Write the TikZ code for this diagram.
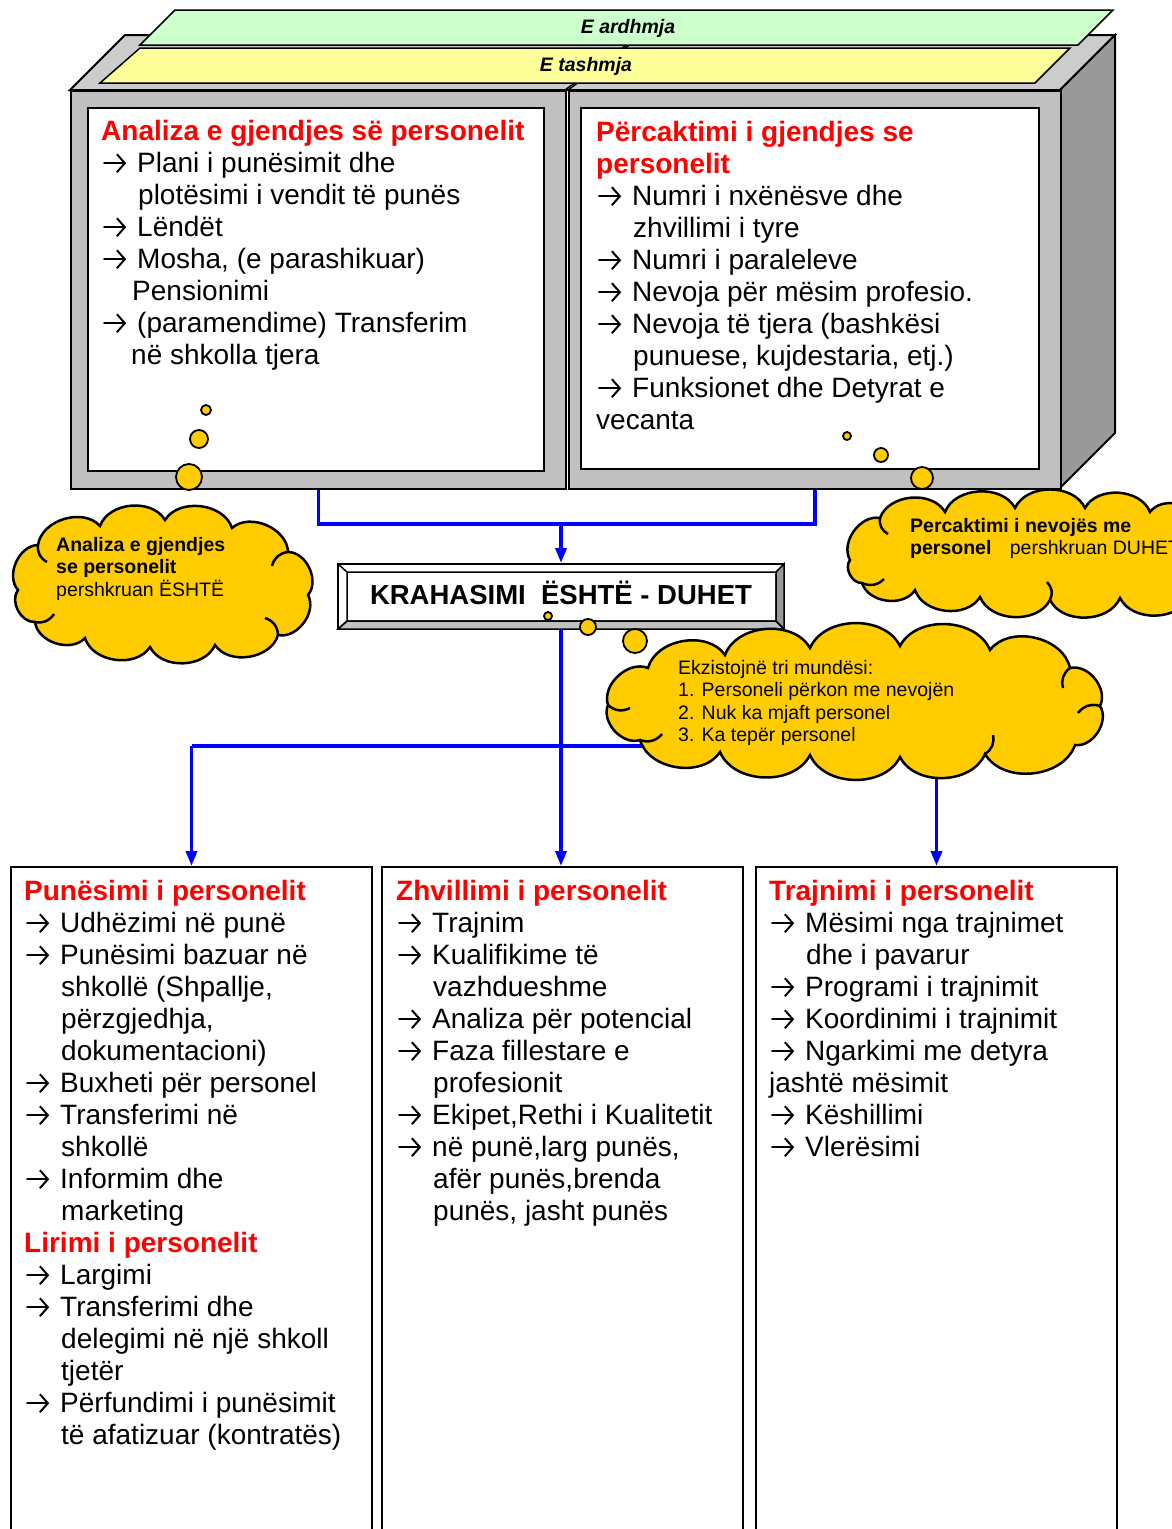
\documentclass[tikz,border=0pt]{standalone}
\usepackage{fontspec}
\setmainfont{Liberation Sans}
\usetikzlibrary{arrows.meta}

\definecolor{facegray}{HTML}{C0C0C0}
\definecolor{topgray}{HTML}{CCCCCC}
\definecolor{sidegray}{HTML}{999999}
\definecolor{futuregreen}{HTML}{CCFFCC}
\definecolor{pastyellow}{HTML}{FFFF99}
\definecolor{bubble}{HTML}{FFCC00}
\definecolor{wireblue}{HTML}{0000FF}

\newcommand{\goto}{\hspace*{2pt}\tikz[baseline=0pt]\draw[line width=2pt, line cap=round,
    -{Straight Barb[length=8pt,width=18pt,line width=2pt]}] (0pt,9pt) -- (22pt,9pt);\hspace*{10pt}}
\newcommand{\cont}{\hspace*{37pt}}
\newcommand{\redhead}[1]{\textcolor{red}{\bfseries #1}}
\newcommand{\bodyfont}{\fontsize{28}{32}\selectfont}
\newcommand{\cloudfont}{\fontsize{19.5}{22.5}\selectfont}
\newcommand{\tallstrut}{\rule{0pt}{26pt}}
\newcommand{\shortstrut}{\rule{0pt}{18pt}}

\begin{document}
\begin{tikzpicture}[x=1pt, y=-1pt,
    face/.style={draw, line width=2pt, fill=facegray, anchor=north west, inner sep=0pt},
    window/.style={draw, line width=2pt, fill=white, anchor=north west, inner sep=0pt},
    listbox/.style={draw, line width=2pt, fill=white, anchor=north west, inner sep=0pt,
        minimum width=361, minimum height=690},
    listtext/.style={anchor=north west, align=left, inner sep=0pt, font=\bodyfont},
    cloudtext/.style={anchor=north west, align=left, inner sep=0pt, font=\cloudfont},
    puff/.style={draw, line width=2.5pt, fill=bubble, bend left=65},
    crease/.style={line width=2.5pt, bend right=35},
    dot/.style={circle, draw, line width=1.8pt, fill=bubble, inner sep=0pt},
    wire/.style={draw=wireblue, line width=3.5pt},
    wirearrow/.style={wire, -{Triangle[width=11pt,length=15pt]}},
    striplabel/.style={font=\bfseries\itshape\fontsize{19.5}{22}\selectfont, inner sep=0pt}]

    \useasboundingbox (0,0) rectangle (1171,1529);

    % cube: top and side
    \draw[line width=2pt, fill=topgray] (70,90) -- (125,35) -- (1115,35) -- (1060,90) -- cycle;
    \draw[line width=2pt, fill=sidegray] (1060,90) -- (1115,35) -- (1115,433) -- (1060,488) -- cycle;
    \draw[line width=1.5pt] (565,90) -- (640,35);
    \draw[line width=1.5pt] (568,90) -- (643,35);

    % time strips
    \draw[line width=1.5pt, fill=futuregreen] (140,45) -- (175,10) -- (1113,10) -- (1078,45) -- cycle;
    \draw[line width=1.5pt, fill=pastyellow] (100,83) -- (140,48) -- (1070,48) -- (1035,83) -- cycle;
    \node[striplabel] (ardhmja) at (628,28) {E ardhmja};
    \node[striplabel] (tashmja) at (586,66) {E tashmja};

    % front faces
    \node[face, minimum width=495, minimum height=398] (leftface) at (70,90) {};
    \node[face, minimum width=492, minimum height=398] (rightface) at (568,90) {};
    \node[window, minimum width=456, minimum height=363] (leftwin) at (87,107) {};
    \node[window, minimum width=458, minimum height=361] (rightwin) at (580,107) {};

    \node[listtext] (analiza) at (101,114) {\tallstrut\redhead{Analiza e gjendjes së personelit}\\
        \goto Plani i punësimit dhe\\
        \cont plotësimi i vendit të punës\\
        \goto Lëndët\\
        \goto Mosha, (e parashikuar)\\
        \hspace*{31pt}Pensionimi\\
        \goto (paramendime) Transferim\\
        \hspace*{30pt}në shkolla tjera};

    \node[listtext] (percaktimi) at (596,115) {\tallstrut\redhead{Përcaktimi i gjendjes se}\\
        \redhead{personelit}\\
        \goto Numri i nxënësve dhe\\
        \cont zhvillimi i tyre\\
        \goto Numri i paraleleve\\
        \goto Nevoja për mësim profesio.\\
        \goto Nevoja të tjera (bashkësi\\
        \cont punuese, kujdestaria, etj.)\\
        \goto Funksionet dhe Detyrat e\\
        vecanta};

    % thought bubbles of the panels
    \node[dot, minimum size=10] (la) at (206,410) {};
    \node[dot, minimum size=18] (lb) at (199,439) {};
    \node[dot, minimum size=26] (lc) at (189,477) {};
    \node[dot, minimum size=8] (ra) at (847,436) {};
    \node[dot, minimum size=14] (rb) at (881,455) {};
    \node[dot, minimum size=22] (rc) at (922,478) {};

    % comparison
    \node[draw, line width=2pt, fill=white, minimum width=446, minimum height=65,
        font=\bfseries\fontsize{27.5}{30}\selectfont] (krahasimi) at (561,596.5)
        {\raisebox{7pt}{KRAHASIMI\ \ ËSHTË - DUHET}};
    \filldraw[line width=1.5pt, fill=facegray] (338,629) -- (347,621) -- (776,621) -- (784,629) -- cycle;
    \filldraw[line width=1.5pt, fill=sidegray] (784,564) -- (776,572) -- (776,621) -- (784,629) -- cycle;
    \draw[line width=1.5pt] (338,564) -- (347,572) (347,572) rectangle (776,621);
    \draw[line width=1.5pt] (338,629) -- (347,621);

    \coordinate (topjoin) at (561,524);
    \draw[wire] (leftface.south) -- (leftface.south |- topjoin) -| (rightface.south);
    \draw[wirearrow] (topjoin) -- (krahasimi.north);

    % three fields
    \node[listbox] (punesimi) at (10,866) {};
    \node[listbox] (zhvillimi) at (381,866) {};
    \node[listbox] (trajnimi) at (755,866) {};

    \coordinate (botjoin) at (561,746);
    \draw[wire] (punesimi.north |- botjoin) -- (trajnimi.north |- botjoin);
    \draw[wirearrow] (krahasimi.south) -- (krahasimi.south |- zhvillimi.north);
    \draw[wirearrow] (punesimi.north |- botjoin) -- (punesimi.north);
    \draw[wirearrow] (trajnimi.north |- botjoin) -- (trajnimi.north);

    % clouds
    \draw[puff] (18,590) to (38,545) to (100,526) to (165,520) to (232,528) to (288,552)
        to (308,595) to (278,635) to (215,645) to (150,647) to (85,638) to (35,622) to (18,590) -- cycle;
    \draw[crease] (288,552) to (272,566) (278,635) to (265,618) (35,622) to (54,614) (38,545) to (47,562);
    \draw[puff] (850,560) to (880,518) to (945,512) to (1015,508) to (1085,508) to (1150,512)
        to (1200,522) to (1215,560) to (1190,596) to (1120,598) to (1050,600) to (980,597)
        to (915,590) to (862,583) to (850,560) -- cycle;
    \draw[crease] (862,583) to (884,579) (1050,600) to (1047,582) (880,518) to (888,534);
    \draw[puff] (608,705) to (648,668) to (725,655) to (810,648) to (900,646) to (990,650)
        to (1070,668) to (1100,706) to (1075,745) to (985,754) to (900,757) to (810,755)
        to (720,752) to (640,740) to (608,705) -- cycle;
    \draw[crease] (1100,706) to (1078,713) (985,754) to (993,735) (640,740) to (662,734)
        (1070,668) to (1063,688) (608,705) to (630,708);

    \node[cloudtext] (eshtetext) at (56,533) {\shortstrut\textbf{Analiza e gjendjes}\\
        \textbf{se personelit}\\
        pershkruan ËSHTË};
    \node[cloudtext] (duhettext) at (910,514) {\shortstrut\textbf{Percaktimi i nevojës me}\\
        \textbf{personel}\hspace{13pt} pershkruan DUHET};
    \node[cloudtext] (mundesitext) at (678,656) {\shortstrut Ekzistojnë tri mundësi:\\
        1. Personeli përkon me nevojën\\
        2. Nuk ka mjaft personel\\
        3. Ka tepër personel};

    \node[dot, minimum size=8] (ka) at (548,616) {};
    \node[dot, minimum size=16] (kb) at (588,627) {};
    \node[dot, minimum size=24] (kc) at (635,641) {};

    \node[listtext] (punesimilist) at (24,874) {\tallstrut\redhead{Punësimi i personelit}\\
        \goto Udhëzimi në punë\\
        \goto Punësimi bazuar në\\
        \cont shkollë (Shpallje,\\
        \cont përzgjedhja,\\
        \cont dokumentacioni)\\
        \goto Buxheti për personel\\
        \goto Transferimi në\\
        \cont shkollë\\
        \goto Informim dhe\\
        \cont marketing\\
        \redhead{Lirimi i personelit}\\
        \goto Largimi\\
        \goto Transferimi dhe\\
        \cont delegimi në një shkoll\\
        \cont tjetër\\
        \goto Përfundimi i punësimit\\
        \cont të afatizuar (kontratës)};

    \node[listtext] (zhvillimilist) at (396,874) {\tallstrut\redhead{Zhvillimi i personelit}\\
        \goto Trajnim\\
        \goto Kualifikime të\\
        \cont vazhdueshme\\
        \goto Analiza për potencial\\
        \goto Faza fillestare e\\
        \cont profesionit\\
        \goto Ekipet,Rethi i Kualitetit\\
        \goto në punë,larg punës,\\
        \cont afër punës,brenda\\
        \cont punës, jasht punës};

    \node[listtext] (trajnimilist) at (769,874) {\tallstrut\redhead{Trajnimi i personelit}\\
        \goto Mësimi nga trajnimet\\
        \cont dhe i pavarur\\
        \goto Programi i trajnimit\\
        \goto Koordinimi i trajnimit\\
        \goto Ngarkimi me detyra\\
        jashtë mësimit\\
        \goto Këshillimi\\
        \goto Vlerësimi};
\end{tikzpicture}
\end{document}
